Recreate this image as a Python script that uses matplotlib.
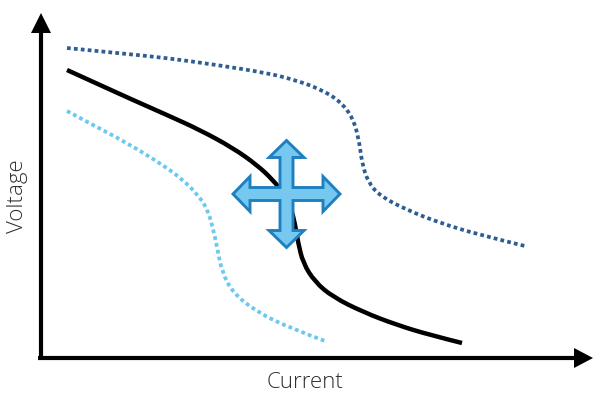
import matplotlib
matplotlib.use("Agg")
import matplotlib.pyplot as plt
from matplotlib.patches import PathPatch
from matplotlib.path import Path

# values, in picture units (y grows downwards)
black_x = [67, 100, 133, 167, 200, 233, 257, 273, 284, 291, 295, 298, 303, 315, 333, 363, 397, 430, 462]
black_y = [70, 85, 100, 115, 130, 148, 165, 180, 194, 208, 224, 242, 263, 282, 297, 312, 325, 335, 343]

dark_x = [67, 117, 167, 217, 267, 295, 320, 340, 353, 359, 362, 368, 380, 407, 440, 480, 525]
dark_y = [48, 53, 58, 65, 73, 80, 89, 101, 118, 140, 163, 182, 196, 210, 223, 235, 246]

light_x = [67, 93, 127, 163, 183, 197, 207, 213, 217, 222, 233, 257, 290, 325]
light_y = [111, 125, 143, 165, 180, 194, 208, 228, 247, 272, 293, 312, 328, 341]

cross_center = (286.5, 194)
cross_reach = 53.5
head_len = 17
head_half = 17.5
shaft_half = 6.5

plt.rcParams['font.family'] = ['Open Sans', 'DejaVu Sans']


def smooth(xs, ys):
    # quadratic pieces with the read points as control points
    verts = [(xs[0], ys[0])]
    codes = [Path.MOVETO]
    for i in range(1, len(xs) - 1):
        verts.append((xs[i], ys[i]))
        if i < len(xs) - 2:
            verts.append(((xs[i] + xs[i + 1]) / 2, (ys[i] + ys[i + 1]) / 2))
        else:
            verts.append((xs[i + 1], ys[i + 1]))
        codes += [Path.CURVE3, Path.CURVE3]
    return Path(verts, codes)


fig = plt.figure(figsize=(5.93, 3.94), dpi=100)
ax = fig.add_axes([0, 0, 1, 1])
ax.set_xlim(0, 593)
ax.set_ylim(394, 0)
ax.axis("off")

# axes with arrow heads
ax.plot([41, 41], [360, 30], color="black", lw=3.0, solid_capstyle="butt")
ax.plot([38, 576], [358, 358], color="black", lw=3.0, solid_capstyle="butt")
ax.fill([31, 41, 51], [33, 13, 33], color="black", lw=0)
ax.fill([574, 593, 574], [348, 358, 368], color="black", lw=0)

ax.add_patch(PathPatch(smooth(dark_x, dark_y), fill=False, edgecolor="#2f5d92", lw=2.7,
                       ls=(0, (1, 0.85)), capstyle="butt"))
ax.add_patch(PathPatch(smooth(light_x, light_y), fill=False, edgecolor="#6cc8ef", lw=2.7,
                       ls=(0, (1, 0.85)), capstyle="butt"))
ax.add_patch(PathPatch(smooth(black_x, black_y), fill=False, edgecolor="black", lw=3.2,
                       capstyle="butt", joinstyle="round"))

# four way arrow on top of the curve
cx, cy = cross_center
r, h, w, s = cross_reach, head_len, head_half, shaft_half
px = [0, w, s, s, r - h, r - h, r, r - h, r - h, s, s, w, 0, -w, -s, -s, -r + h, -r + h, -r, -r + h, -r + h, -s, -s, -w]
py = [-r, -r + h, -r + h, -s, -s, -w, 0, w, s, s, r - h, r - h, r, r - h, r - h, s, s, w, 0, -w, -s, -s, -r + h, -r + h]
ax.fill([cx + p for p in px], [cy + p for p in py], facecolor="#76c8f0", edgecolor="#1f80c0", lw=2.1, joinstyle="miter", zorder=5)

ax.text(305, 383, "Current", fontsize=16, color="#303030", ha="center", va="center", fontweight="light")
ax.text(18, 196, "Voltage", fontsize=16, color="#303030", ha="center", va="center", rotation=90, fontweight="light")

fig.savefig("out.png", dpi=100)
